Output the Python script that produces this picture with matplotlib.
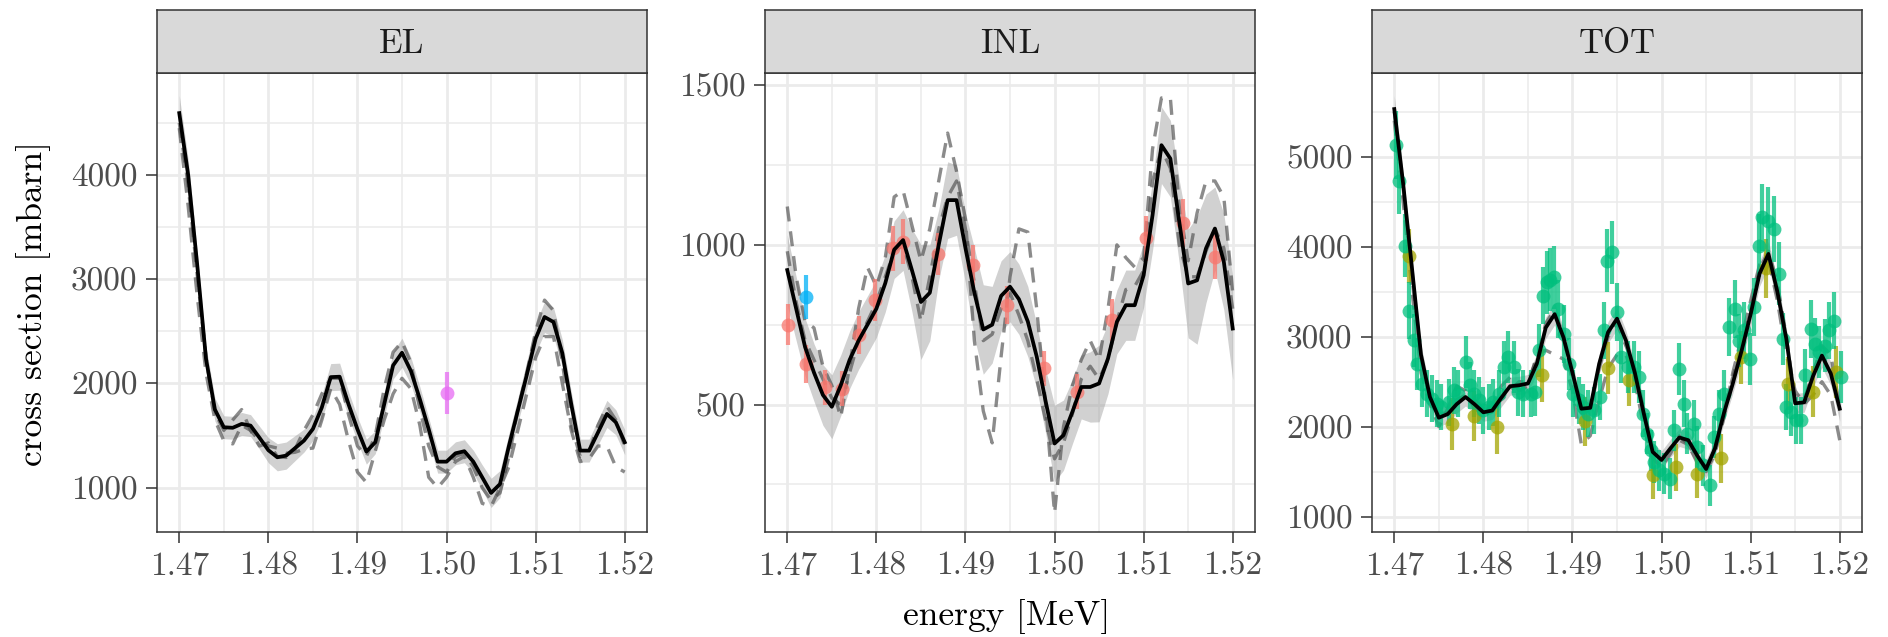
import numpy as np
import matplotlib
matplotlib.use("Agg")
import matplotlib.pyplot as plt

plt.rcParams['font.family'] = 'cmr10'
plt.rcParams['axes.formatter.use_mathtext'] = True

# ================================
# DATA
# ================================
energy = np.round(np.arange(1.470, 1.5205, 0.001), 3)

el_mean = [4594, 4000, 3150, 2237, 1750, 1580, 1575, 1612, 1596, 1480,
           1360, 1292, 1308, 1380, 1452, 1564, 1770, 2061, 2065, 1800,
           1560, 1346, 1436, 1800, 2173, 2295, 2120, 1850, 1560, 1250,
           1250, 1330, 1350, 1250, 1100, 950, 1035, 1400, 1740, 2080,
           2430, 2638, 2590, 2290, 1800, 1356, 1356, 1530, 1708, 1628,
           1436]
el_band = [170, 150, 130, 120, 110, 110, 110, 110, 105, 110,
           120, 130, 130, 120, 110, 110, 120, 130, 130, 120,
           120, 120, 110, 120, 130, 140, 130, 120, 110, 110,
           110, 110, 110, 110, 120, 140, 130, 120, 120, 130,
           140, 150, 140, 130, 120, 110, 110, 120, 130, 120,
           120]
el_dash_a = [4450, 3700, 2850, 2100, 1650, 1450, 1420, 1600, 1550, 1450,
             1400, 1380, 1330, 1340, 1370, 1380, 1650, 1950, 1800, 1450,
             1150, 1050, 1350, 1650, 1900, 2050, 1950, 1600, 1100, 1000,
             1100, 1250, 1300, 1100, 850, 820, 1000, 1200, 1550, 1900,
             2250, 2450, 2450, 2000, 1550, 1250, 1280, 1400, 1400, 1200,
             1150]
el_dash_b = [4500, 3900, 3050, 2250, 1720, 1550, 1650, 1750, 1550, 1400,
             1430, 1300, 1290, 1370, 1550, 1700, 1900, 2050, 2050, 1700,
             1400, 1300, 1500, 1950, 2300, 2400, 2200, 1750, 1400, 1200,
             1150, 1300, 1330, 1200, 1000, 880, 950, 1300, 1750, 2100,
             2500, 2800, 2700, 2200, 1600, 1300, 1350, 1600, 1780, 1650,
             1400]
el_pts_e = [1.500]
el_pts_y = [1910]
el_pts_err = [200]

inl_mean = [921, 800, 680, 600, 530, 493, 560, 640, 700, 750,
            800, 880, 985, 1015, 920, 821, 850, 1000, 1140, 1140,
            990, 850, 735, 750, 840, 869, 830, 760, 650, 510,
            378, 404, 477, 555, 555, 566, 644, 759, 811, 811,
            905, 1093, 1312, 1270, 1072, 879, 889, 989, 1051, 947,
            738]
inl_band = [110, 100, 90, 90, 95, 100, 95, 90, 90, 90,
            90, 90, 90, 95, 130, 180, 150, 110, 120, 110,
            110, 140, 140, 120, 110, 110, 110, 110, 100, 100,
            120, 110, 100, 100, 110, 120, 110, 100, 110, 110,
            100, 110, 120, 120, 130, 170, 200, 170, 130, 150,
            160]
inl_dash_a = [1120, 900, 760, 740, 620, 560, 460, 620, 800, 930,
              870, 960, 1150, 1170, 1060, 950, 1050, 1200, 1350, 1230,
              1080, 700, 480, 380, 650, 900, 1050, 1040, 800, 500,
              160, 430, 560, 640, 700, 640, 800, 1000, 960, 930,
              960, 1300, 1460, 1460, 1120, 950, 1100, 1200, 1200, 1150,
              850]
inl_dash_b = [980, 820, 700, 640, 580, 520, 500, 600, 700, 760,
              820, 900, 980, 1000, 900, 760, 900, 1050, 1150, 1200,
              1050, 880, 700, 720, 800, 850, 780, 700, 580, 450,
              330, 380, 470, 580, 620, 580, 640, 760, 860, 870,
              920, 1200, 1300, 1240, 1000, 900, 900, 980, 1050, 990,
              800]
inl_red_e = [1.4701, 1.4721, 1.4742, 1.4761, 1.4780, 1.4798, 1.4819, 1.4830, 1.4869,
             1.4909, 1.4947, 1.4988, 1.5025, 1.5064, 1.5103, 1.5144, 1.5180]
inl_red_y = [750, 627, 554, 549, 717, 827, 989, 1010, 971,
             936, 811, 613, 540, 764, 1020, 1067, 962]
inl_red_err = [65, 60, 55, 55, 60, 65, 70, 70, 65,
               65, 60, 55, 55, 65, 70, 75, 70]
inl_blue_e = [1.4721]
inl_blue_y = [837]
inl_blue_err = [70]

tot_mean = [5529, 4697, 3750, 2800, 2330, 2100, 2140, 2250, 2330, 2250,
            2160, 2180, 2320, 2450, 2460, 2480, 2700, 3100, 3250, 2990,
            2600, 2200, 2210, 2700, 3050, 3200, 2960, 2600, 2150, 1720,
            1630, 1760, 1880, 1850, 1680, 1530, 1760, 2150, 2480, 2850,
            3250, 3700, 3920, 3500, 2980, 2260, 2270, 2560, 2790, 2590,
            2200]
tot_band = [150, 130, 120, 110, 100, 100, 100, 100, 100, 100,
            100, 100, 100, 100, 100, 100, 110, 120, 120, 110,
            100, 100, 100, 110, 120, 120, 110, 100, 100, 100,
            100, 100, 100, 100, 100, 100, 100, 100, 110, 120,
            130, 140, 140, 130, 120, 110, 110, 120, 130, 130,
            140]
tot_dash_a = [5400, 4500, 3500, 2600, 2250, 2000, 2200, 2450, 2400, 2200,
              2150, 2250, 2450, 2550, 2400, 2450, 2800, 2850, 2800, 2750,
              2400, 1800, 1900, 2300, 2650, 2800, 2800, 2500, 2000, 1650,
              1550, 1700, 1900, 1800, 1600, 1500, 1700, 2100, 2600, 3000,
              3400, 3800, 3850, 3400, 2800, 2400, 2250, 2350, 2500, 2350,
              1850]
tot_dash_b = [5500, 4650, 3650, 2750, 2350, 2150, 2150, 2300, 2350, 2300,
              2200, 2200, 2300, 2400, 2500, 2500, 2750, 3150, 3300, 3000,
              2500, 2150, 2200, 2650, 3000, 3150, 2900, 2650, 2200, 1750,
              1650, 1750, 1850, 1800, 1650, 1550, 1750, 2200, 2550, 2900,
              3300, 3750, 3950, 3600, 3000, 2300, 2300, 2600, 2900, 2800,
              2200]
tot_green_e = [1.4702, 1.4705, 1.4712, 1.4717, 1.4722, 1.4725, 1.4731, 1.4737, 1.4742, 1.4748,
               1.4753, 1.4761, 1.4767, 1.4772, 1.4780, 1.4785, 1.4789, 1.4795, 1.4800, 1.4806,
               1.4811, 1.4817, 1.4823, 1.4828, 1.4834, 1.4839, 1.4845, 1.4853, 1.4858, 1.4862,
               1.4867, 1.4871, 1.4875, 1.4879, 1.4884, 1.4890, 1.4896, 1.4901, 1.4907, 1.4912,
               1.4918, 1.4924, 1.4931, 1.4935, 1.4939, 1.4944, 1.4950, 1.4954, 1.4962, 1.4969,
               1.4975, 1.4979, 1.4984, 1.4988, 1.4992, 1.4997, 1.5003, 1.5009, 1.5014, 1.5020,
               1.5025, 1.5029, 1.5036, 1.5040, 1.5046, 1.5054, 1.5059, 1.5065, 1.5070, 1.5076,
               1.5082, 1.5087, 1.5093, 1.5099, 1.5104, 1.5109, 1.5113, 1.5119, 1.5126, 1.5132,
               1.5136, 1.5140, 1.5145, 1.5151, 1.5157, 1.5161, 1.5168, 1.5172, 1.5177, 1.5183,
               1.5188, 1.5194, 1.5201]
tot_green_y = [5133, 4734, 4012, 3291, 2958, 2699, 2477, 2366, 2310, 2255,
               2218, 2273, 2403, 2366, 2717, 2458, 2366, 2292, 2181, 2218,
               2273, 2366, 2662, 2773, 2662, 2384, 2366, 2366, 2384, 2847,
               3457, 3605, 3631, 3661, 3309, 3032, 2699, 2366, 2292, 2218,
               2144, 2181, 2329, 3069, 3846, 3938, 3272, 2773, 2662, 2662,
               2551, 2144, 1922, 1737, 1607, 1515, 1478, 1422, 1959, 2643,
               2255, 1922, 2033, 1774, 1570, 1348, 1885, 2144, 2366, 3106,
               3309, 2957, 3069, 2754, 3328, 4012, 4327, 4290, 4197, 3698,
               2976, 2218, 2162, 2070, 2070, 2569, 3087, 2921, 2828, 2902,
               3069, 3180, 2551]
tot_green_err = [380, 370, 350, 320, 290, 290, 260, 260, 260, 260,
                 260, 260, 260, 260, 290, 260, 260, 260, 260, 260,
                 260, 260, 290, 290, 290, 260, 260, 260, 260, 290,
                 320, 350, 350, 350, 320, 320, 290, 260, 260, 260,
                 260, 260, 260, 320, 350, 350, 320, 290, 290, 290,
                 290, 260, 230, 230, 230, 230, 230, 230, 230, 290,
                 260, 230, 260, 230, 230, 230, 230, 260, 260, 320,
                 320, 290, 320, 290, 320, 350, 370, 370, 370, 350,
                 290, 260, 260, 260, 260, 290, 320, 290, 290, 290,
                 320, 320, 290]
tot_olive_e = [1.4717, 1.4765, 1.4789, 1.4815, 1.4866, 1.4914, 1.4940, 1.4964, 1.4990,
               1.5016, 1.5040, 1.5067, 1.5089, 1.5117, 1.5142, 1.5170, 1.5196]
tot_olive_y = [3900, 2030, 2120, 2000, 2570, 2060, 2650, 2520, 1460,
               1550, 1470, 1650, 2770, 3760, 2480, 2390, 2610]
tot_olive_err = [300, 290, 280, 300, 290, 270, 290, 290, 260,
                 260, 260, 270, 290, 330, 290, 280, 290]

x_ticks = [1.47, 1.48, 1.49, 1.50, 1.51, 1.52]
x_labels = ['1.47', '1.48', '1.49', '1.50', '1.51', '1.52']
x_minor = [1.475, 1.485, 1.495, 1.505, 1.515]

# ================================
# LAYOUT
# ================================
W, H = 1888, 637
fig = plt.figure(figsize=(W / 100, H / 100), dpi=100)

AX_BOTTOM = (H - 532) / H
AX_HEIGHT = 459 / H
STRIP_BOTTOM = (H - 73) / H
STRIP_HEIGHT = 63 / H
PANEL_W = 490 / W


def draw_panel(left, title, mean, band, dash_a, dash_b, ylim, yticks, yminor, point_sets):
    ax = fig.add_axes([left / W, AX_BOTTOM, PANEL_W, AX_HEIGHT])
    ax.set_xlim(1.4675, 1.5225)
    ax.set_ylim(*ylim)
    ax.set_xticks(x_ticks)
    ax.set_xticklabels(x_labels)
    ax.set_xticks(x_minor, minor=True)
    ax.set_yticks(yticks)
    ax.set_yticklabels([str(v) for v in yticks])
    ax.set_yticks(yminor, minor=True)
    ax.set_axisbelow(True)
    ax.grid(which='major', color='#EBEBEB', linewidth=2.0)
    ax.grid(which='minor', color='#EBEBEB', linewidth=1.1)
    ax.tick_params(which='minor', length=0)
    ax.tick_params(which='major', length=8, width=1.1, color='#333333',
                   labelsize=24, labelcolor='#4D4D4D', pad=6)
    for s in ax.spines.values():
        s.set_color('#333333')
        s.set_linewidth(1.1)

    m = np.array(mean)
    b = np.array(band)
    ax.fill_between(energy, m - b, m + b, color='#999999', alpha=0.45, linewidth=0, zorder=2)
    for d in (dash_a, dash_b):
        ax.plot(energy, d, color='#4D4D4D', alpha=0.65, linewidth=2.4,
                dashes=(4.5, 3.0), zorder=3)
    for xs, ys, es, col in point_sets:
        ax.errorbar(xs, ys, yerr=es, fmt='o', color=col, ms=10, mec='none',
                    elinewidth=3.0, capsize=0, alpha=0.75, zorder=4)
    ax.plot(energy, m, color='black', linewidth=2.7, solid_joinstyle='round', zorder=5)

    # facet strip
    sax = fig.add_axes([left / W, STRIP_BOTTOM, PANEL_W, STRIP_HEIGHT])
    sax.set_facecolor('#D9D9D9')
    sax.set_xticks([])
    sax.set_yticks([])
    for s in sax.spines.values():
        s.set_color('#333333')
        s.set_linewidth(1.1)
    sax.text(0.5, 0.317, title, ha='center', va='baseline', fontsize=25,
             color='#1A1A1A', transform=sax.transAxes)
    return ax


draw_panel(157, 'EL', el_mean, el_band, el_dash_a, el_dash_b,
           (575, 4979), [1000, 2000, 3000, 4000], [1500, 2500, 3500, 4500],
           [(el_pts_e, el_pts_y, el_pts_err, '#E76BF3')])

draw_panel(765, 'INL', inl_mean, inl_band, inl_dash_a, inl_dash_b,
           (101, 1538), [500, 1000, 1500], [250, 750, 1250],
           [(inl_red_e, inl_red_y, inl_red_err, '#F8766D'),
            (inl_blue_e, inl_blue_y, inl_blue_err, '#00B0F6')])

draw_panel(1372, 'TOT', tot_mean, tot_band, tot_dash_a, tot_dash_b,
           (830, 5930), [1000, 2000, 3000, 4000, 5000], [1500, 2500, 3500, 4500, 5500],
           [(tot_olive_e, tot_olive_y, tot_olive_err, '#A3A500'),
            (tot_green_e, tot_green_y, tot_green_err, '#00BF7D')])

fig.text(34 / W, 1 - 303.5 / H, 'cross section [mbarn]', rotation=90,
         ha='center', va='center', fontsize=25.5)
fig.text(1007 / W, 12 / H, 'energy [MeV]', ha='center', va='baseline', fontsize=25.5)

plt.savefig("out.png", dpi=100)
